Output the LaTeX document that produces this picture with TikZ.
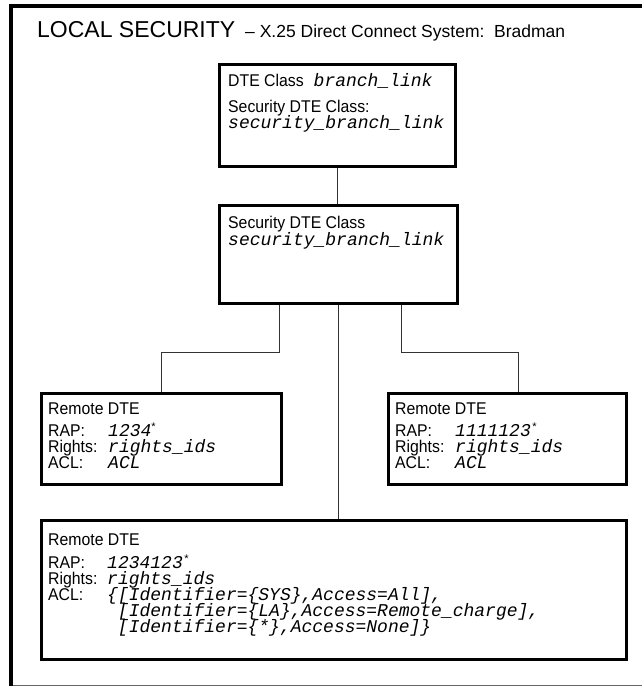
\documentclass[tikz,border=0pt]{standalone}
\usepackage{fontspec}
\usepackage{graphicx}
\setmainfont{Liberation Sans}
\setmonofont{Liberation Mono}
\newfontfamily\narrowsans[FakeStretch=0.93]{Liberation Sans}
\newcommand\mytt[1]{{\fontsize{18}{20}\selectfont\ttfamily\itshape #1}}
\newcommand\myss[1]{\scalebox{1.7}{\narrowsans\fontsize{10}{12}\selectfont #1}}
\newcommand\myast{\raisebox{6pt}{\scalebox{1.1}{\fontsize{10}{10}\selectfont *}}}
\begin{document}
\begin{tikzpicture}[x=1pt,y=-1pt,
  box/.style={draw=black, line width=3pt, inner sep=0pt, anchor=north west},
  conn/.style={draw=black!80, line width=1pt},
  lbltext/.style={anchor=base west, inner sep=0pt},
  monotext/.style={anchor=base west, inner sep=0pt}]
\useasboundingbox (0,0) rectangle (642,686);
% outer frame
\draw[line width=4pt] (11,688) -- (11,6) -- (644,6);
\draw[black!60, line width=1pt] (13,685) -- (642,685);
% title
\node[anchor=base west, inner sep=0pt] (title) at (37,37) {\fontsize{23}{26}\selectfont LOCAL SECURITY};
\node[anchor=base west, inner sep=0pt] (sub) at (245,37) {\fontsize{17.5}{20}\selectfont – X.25 Direct Connect System:\ \ Bradman};
% boxes
\node[box, minimum width=236pt, minimum height=102pt] (b1) at (218,63) {};
\node[box, minimum width=238pt, minimum height=98pt] (b2) at (218,204) {};
\node[box, minimum width=240pt, minimum height=91pt] (b3) at (40,392) {};
\node[box, minimum width=238pt, minimum height=91pt] (b4) at (387,392) {};
\node[box, minimum width=585pt, minimum height=139pt] (b5) at (40,519) {};
% connectors
\draw[conn] (b1.south) -- (b1.south |- b2.north);
\draw[conn] (b2.south) -- (b2.south |- b5.north);
\draw[conn] ([xshift=61pt]b2.south west) -- ++(0,47) -| (b3.north);
\draw[conn] ([xshift=-58pt]b2.south east) -- ++(0,47) -| ([xshift=11pt]b4.north);
% box 1 text
\node[lbltext] (t1a) at (228,86) {\myss{DTE Class}\hspace{10pt}\mytt{branch\_link}};
\node[lbltext] (t1b) at (228,112) {\myss{Security DTE Class:}};
\node[monotext] (t1c) at (228,128) {\mytt{security\_branch\_link}};
% box 2 text
\node[lbltext] (t2a) at (228,228) {\myss{Security DTE Class}};
\node[monotext] (t2b) at (228,245) {\mytt{security\_branch\_link}};
% box 3 text
\node[lbltext] (t3a) at (48,414) {\myss{Remote DTE}};
\node[lbltext] (t3b) at (48,436) {\myss{RAP:}};
\node[lbltext] (t3c) at (48,452) {\myss{Rights:}};
\node[lbltext] (t3d) at (48,468) {\myss{ACL:}};
\node[monotext] (t3e) at (108,436) {\mytt{1234}\myast};
\node[monotext] (t3f) at (108,452) {\mytt{rights\_ids}};
\node[monotext] (t3g) at (108,468) {\mytt{ACL}};
% box 4 text
\node[lbltext] (t4a) at (395,414) {\myss{Remote DTE}};
\node[lbltext] (t4b) at (395,436) {\myss{RAP:}};
\node[lbltext] (t4c) at (395,452) {\myss{Rights:}};
\node[lbltext] (t4d) at (395,468) {\myss{ACL:}};
\node[monotext] (t4e) at (455,436) {\mytt{1111123}\,\myast};
\node[monotext] (t4f) at (455,452) {\mytt{rights\_ids}};
\node[monotext] (t4g) at (455,468) {\mytt{ACL}};
% box 5 text
\node[lbltext] (t5a) at (48,545) {\myss{Remote DTE}};
\node[lbltext] (t5b) at (48,568) {\myss{RAP:}};
\node[lbltext] (t5c) at (48,584) {\myss{Rights:}};
\node[lbltext] (t5d) at (48,600) {\myss{ACL:}};
\node[monotext] (t5e) at (107,568) {\mytt{1234123}\,\myast};
\node[monotext] (t5f) at (107,584) {\mytt{rights\_ids}};
\node[monotext] (t5g) at (107,600) {\mytt{\{[Identifier=\{SYS\},Access=All],}};
\node[monotext] (t5h) at (107,616) {\mytt{\phantom{\{}[Identifier=\{LA\},Access=Remote\_charge],}};
\node[monotext] (t5i) at (107,632) {\mytt{\phantom{\{}[Identifier=\{*\},Access=None]\}}};
\end{tikzpicture}
\end{document}
